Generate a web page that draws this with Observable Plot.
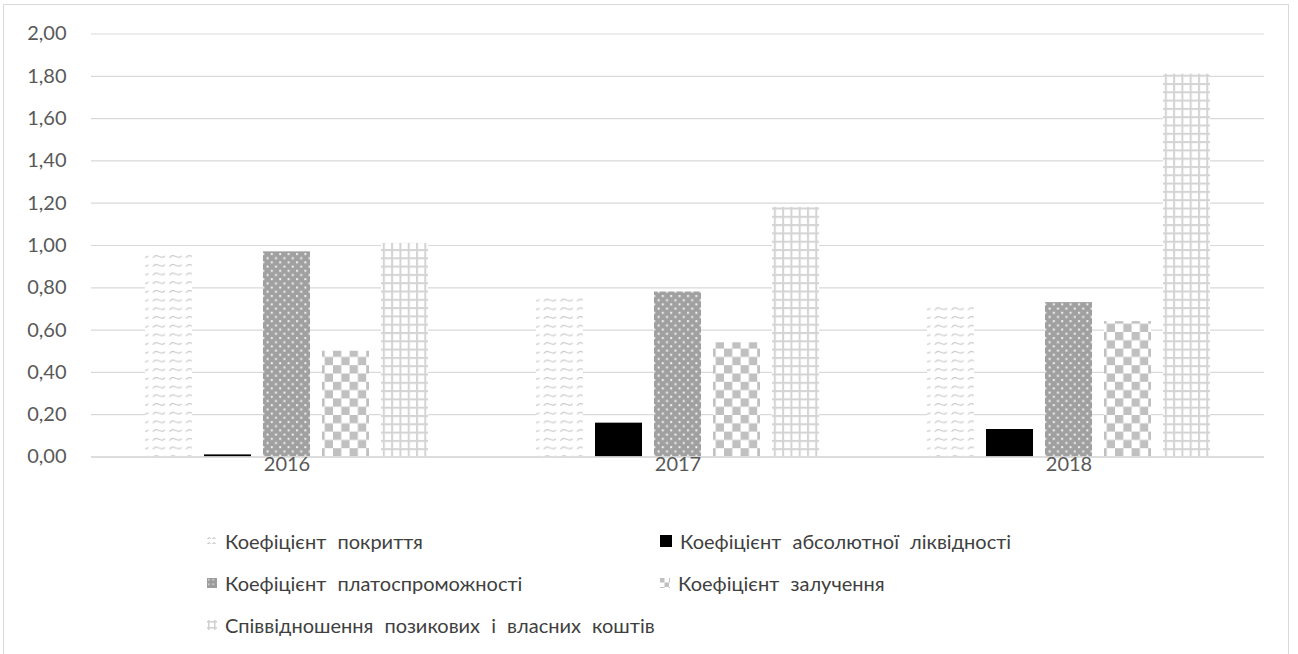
<!DOCTYPE html>
<html>
<head>
<meta charset="utf-8">
<script src="https://cdn.jsdelivr.net/npm/d3@7"></script>
<script src="https://cdn.jsdelivr.net/npm/@observablehq/plot@0.6"></script>
<style>
  html, body { margin: 0; padding: 0; background: #fff; }
  #wrap { position: relative; width: 1298px; height: 654px; overflow: hidden; font-family: Lato, "Open Sans", sans-serif; }
  #frame { position: absolute; left: 3px; top: 4px; width: 1286px; height: 680px; border: 1px solid #d9d9d9; box-sizing: border-box; }
  #chart { position: absolute; left: 0; top: 0; }
  .leg { position: absolute; display: flex; align-items: center; font-size: 20px; color: #404040; white-space: nowrap; word-spacing: 6px; }
  .leg svg { margin-right: 8px; }
</style>
</head>
<body>
<div id="wrap">
  <div id="frame"></div>
  <div id="chart"></div>
  <div id="legend"></div>
</div>
<script>
const years = ["2016", "2017", "2018"];
const seriesNames = [
  "Коефіцієнт покриття",
  "Коефіцієнт абсолютної ліквідності",
  "Коефіцієнт платоспроможності",
  "Коефіцієнт залучення",
  "Співвідношення позикових і власних коштів"
];
const kPokryttia = [0.97, 0.77, 0.72];
const kAbsLikvidnosti = [0.01, 0.16, 0.13];
const kPlatospromozhnosti = [0.97, 0.78, 0.73];
const kZaluchennia = [0.50, 0.54, 0.64];
const spivvidnoshennia = [1.01, 1.18, 1.81];
const yTicks = [0, 0.2, 0.4, 0.6, 0.8, 1.0, 1.2, 1.4, 1.6, 1.8, 2.0];

const seriesValues = [kPokryttia, kAbsLikvidnosti, kPlatospromozhnosti, kZaluchennia, spivvidnoshennia];
const fills = ["url(#pWave)", "#000000", "url(#pDots)", "url(#pCheck)", "url(#pGrid)"];

const rows = [];
seriesNames.forEach((s, i) => years.forEach((y, j) => rows.push({year: y, series: s, value: seriesValues[i][j], idx: i})));

const fmt = v => d3.format(".2f")(v).replace(".", ",");

const plot = Plot.plot({
  width: 1298,
  height: 480,
  marginLeft: 90,
  marginRight: 33,
  marginTop: 33.5,
  marginBottom: 23.5,
  style: {fontFamily: "Lato, 'Open Sans', sans-serif", fontSize: "20px", color: "#595959", background: "transparent"},
  fx: {domain: years, paddingInner: 0, paddingOuter: 0, label: null},
  x: {domain: seriesNames, paddingInner: 0.2, paddingOuter: 0.864, axis: null},
  y: {domain: [0, 2], label: null},
  marks: [
    Plot.gridY(yTicks, {stroke: "#d9d9d9", strokeOpacity: 1, strokeWidth: 1.2}),
    ...seriesNames.map((s, i) => Plot.barY(rows.filter(d => d.idx === i), {fx: "year", x: "series", y: "value", fill: fills[i]})),
    Plot.ruleY([0], {stroke: "#d9d9d9", strokeWidth: 1.5}),
    Plot.axisFx({anchor: "bottom", tickSize: 0, tickPadding: 0, label: null, fontSize: 20}),
    Plot.axisY(yTicks, {tickSize: 0, tickPadding: 25, tickFormat: fmt, label: null, fontSize: 20})
  ]
});

const defs = `
<defs>
  <pattern id="pWave" patternUnits="userSpaceOnUse" width="16.6" height="8.7">
    <rect width="16.6" height="8.7" fill="#fff"/>
    <path d="M2.5,5.5 C4,3.5 6,3 8,4 C10,5 11.5,5.6 13.5,4.6 C14,4.3 14.3,3.9 14.5,3.5" fill="none" stroke="#bdbdbd" stroke-width="1"/>
  </pattern>
  <pattern id="pDots" patternUnits="userSpaceOnUse" width="8.4" height="8.4">
    <rect width="8.4" height="8.4" fill="#a0a0a0"/>
    <rect x="1" y="1" width="2" height="2" fill="#f2f2f2"/>
    <rect x="5.2" y="5.2" width="2" height="2" fill="#f2f2f2"/>
  </pattern>
  <pattern id="pCheck" patternUnits="userSpaceOnUse" width="16.6" height="16.6">
    <rect width="16.6" height="16.6" fill="#fff"/>
    <rect x="0" y="0" width="8.3" height="8.3" fill="#c0c0c0"/>
    <rect x="8.3" y="8.3" width="8.3" height="8.3" fill="#c0c0c0"/>
  </pattern>
  <pattern id="pGrid" patternUnits="userSpaceOnUse" width="8.3" height="8.3">
    <rect width="8.3" height="8.3" fill="#fff"/>
    <rect x="0" y="0" width="2" height="8.3" fill="#d4d4d4"/>
    <rect x="0" y="0" width="8.3" height="2" fill="#d4d4d4"/>
  </pattern>
  <pattern id="lWave" patternUnits="userSpaceOnUse" width="5" height="5">
    <rect width="5" height="5" fill="#fff"/>
    <path d="M0.5,3 C1.5,1.5 2.5,1.5 3.5,2.5" fill="none" stroke="#b0b0b0" stroke-width="1"/>
  </pattern>
  <pattern id="lDots" patternUnits="userSpaceOnUse" width="4.5" height="4.5">
    <rect width="4.5" height="4.5" fill="#9c9c9c"/>
    <rect x="1" y="1" width="1.5" height="1.5" fill="#e0e0e0"/>
  </pattern>
  <pattern id="lCheck" patternUnits="userSpaceOnUse" width="9" height="9">
    <rect width="9" height="9" fill="#fff"/>
    <rect x="0" y="0" width="4.5" height="4.5" fill="#c0c0c0"/>
    <rect x="4.5" y="4.5" width="4.5" height="4.5" fill="#c0c0c0"/>
  </pattern>
  <pattern id="lGrid" patternUnits="userSpaceOnUse" width="6" height="6">
    <rect width="6" height="6" fill="#fff"/>
    <rect x="1" y="0" width="1.5" height="6" fill="#d0d0d0"/>
    <rect x="0" y="1" width="6" height="1.5" fill="#d0d0d0"/>
  </pattern>
</defs>`;
plot.insertAdjacentHTML("afterbegin", defs);
document.getElementById("chart").appendChild(plot);

// legend
const legendFills = ["url(#lWave)", "#000000", "url(#lDots)", "url(#lCheck)", "url(#lGrid)"];
const legPos = [
  {x: 207, y: 541, size: 10},
  {x: 660, y: 541, size: 12},
  {x: 207, y: 583, size: 10},
  {x: 660, y: 583, size: 10},
  {x: 207, y: 625, size: 10}
];
const legend = document.getElementById("legend");
seriesNames.forEach((s, i) => {
  const p = legPos[i];
  const div = document.createElement("div");
  div.className = "leg";
  div.style.left = p.x + "px";
  div.style.top = (p.y - 12) + "px";
  div.style.height = "24px";
  div.innerHTML = `<svg width="${p.size}" height="${p.size}"><rect width="${p.size}" height="${p.size}" fill="${legendFills[i]}"/></svg><span>${s}</span>`;
  legend.appendChild(div);
});
</script>
</body>
</html>
